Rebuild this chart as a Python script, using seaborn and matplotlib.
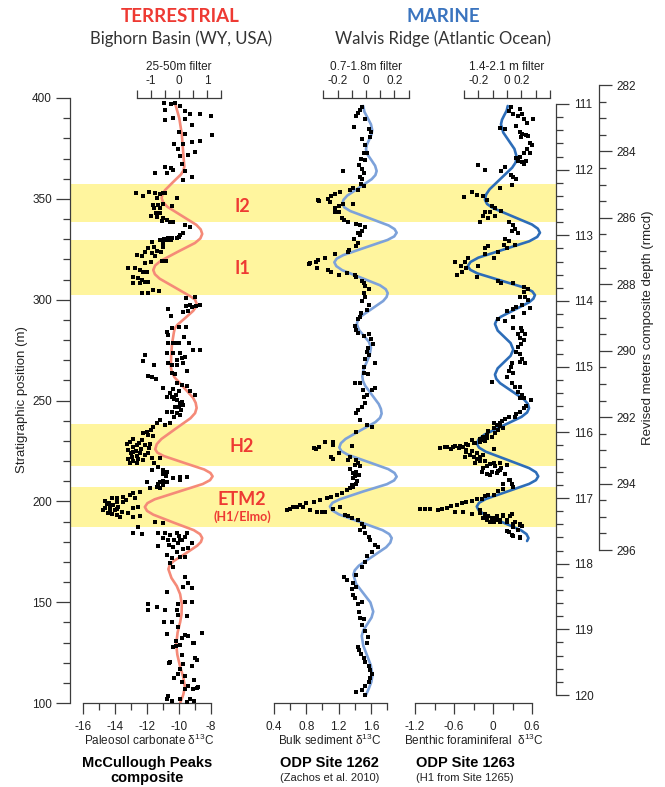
import matplotlib
matplotlib.use("Agg")
import matplotlib.pyplot as plt
import matplotlib.transforms as mtransforms
import pandas as pd
import seaborn as sns
from matplotlib.ticker import FixedLocator, FixedFormatter, MultipleLocator

# ---------------------------------------------------------------- data
band_names = ["I2", "I1", "H2", "ETM2"]
band_top = [357.3, 329.5, 238.3, 207.1]      # stratigraphic position (m)
band_bottom = [338.5, 302.3, 217.5, 187.3]

# McCullough Peaks composite: (stratigraphic position m, paleosol carbonate d13C)
terr_pts = [
    (397.3, -10.94), (396.9, -10.50), (397.3, -10.25), (396.1, -9.94), (394.2, -10.88), (393.4, -9.63),
    (392.3, -9.31), (392.3, -8.69), (389.9, -10.35), (389.6, -9.63), (390.9, -8.00), (389.0, -10.88),
    (386.5, -9.21), (383.2, -10.00), (382.2, -9.63), (381.8, -7.96), (377.4, -10.29), (377.4, -9.73),
    (378.0, -9.17), (378.8, -8.69), (374.5, -10.04), (373.0, -9.00), (371.6, -9.42), (371.1, -9.94),
    (367.2, -9.83), (365.9, -10.88), (365.3, -10.50), (364.5, -10.35), (363.0, -10.77), (363.9, -9.63),
    (362.6, -11.50), (361.0, -9.21), (359.1, -9.73),
    (353.1, -12.69), (351.4, -12.23), (353.5, -11.85), (353.1, -11.50), (352.4, -11.19), (352.7, -10.98),
    (353.1, -10.88), (350.3, -11.35), (346.9, -11.65), (346.9, -11.29), (347.4, -11.02), (346.4, -10.46),
    (350.3, -10.10), (345.3, -11.56), (345.3, -11.19), (343.1, -11.44), (343.1, -11.19), (341.5, -11.75),
    (341.1, -11.35), (340.3, -10.98), (339.5, -10.77), (338.7, -10.56), (338.7, -10.40), (339.2, -11.08),
    (337.0, -9.63), (335.9, -9.31), (332.1, -9.94), (332.9, -9.73), (331.2, -9.98), (330.4, -10.10),
    (330.4, -10.46), (329.6, -10.73),
    (328.8, -11.71), (329.6, -11.19), (329.9, -10.94), (330.4, -10.67), (329.6, -10.52), (325.9, -11.56),
    (325.5, -11.92), (327.9, -11.02), (325.9, -10.98), (323.8, -11.15), (323.8, -12.13), (323.0, -11.71),
    (324.3, -11.40), (321.6, -11.50), (319.3, -10.81), (319.3, -11.08), (318.8, -11.77), (318.3, -12.13),
    (321.6, -12.33), (322.1, -12.60), (315.5, -13.17), (315.5, -12.75), (314.7, -12.44), (313.9, -12.02),
    (313.9, -12.27), (311.4, -12.85), (310.6, -12.54), (309.7, -12.33), (308.9, -12.13), (308.4, -12.44),
    (308.9, -11.92), (308.1, -12.85), (304.8, -11.65), (304.5, -11.23), (303.1, -12.33), (303.5, -11.92),
    (301.2, -9.00), (300.7, -9.56), (297.4, -9.31), (296.9, -9.56), (296.9, -8.94), (297.4, -8.69),
    (296.2, -9.21), (295.2, -10.67), (291.9, -10.52), (294.0, -9.77), (294.5, -9.42), (286.6, -9.56),
    (286.3, -9.98), (285.8, -10.46), (284.1, -10.73), (282.5, -10.67), (281.6, -9.69), (278.7, -9.35),
    (278.3, -10.67), (278.7, -10.35), (278.3, -10.15), (278.3, -9.98), (273.7, -10.77), (273.4, -10.35),
    (273.7, -9.94), (275.0, -9.10), (275.0, -8.69), (270.9, -9.83), (270.1, -10.15), (271.4, -9.63),
    (272.5, -12.13), (269.7, -12.23), (267.6, -11.56), (268.8, -10.67), (267.6, -10.46), (267.6, -10.15),
    (268.4, -9.73),
    (262.1, -11.92), (261.5, -11.71), (260.5, -11.44), (263.8, -10.46), (263.1, -10.25), (264.8, -9.52),
    (258.5, -10.15), (257.7, -9.83), (257.2, -9.52), (256.0, -11.02), (254.9, -9.98), (254.9, -9.31),
    (252.7, -9.00), (253.5, -10.56), (251.9, -10.73), (251.6, -10.46), (250.2, -10.15), (248.6, -9.94),
    (247.8, -9.73), (246.9, -10.25), (244.5, -10.46), (244.5, -10.73), (243.6, -10.15), (242.8, -9.94),
    (240.3, -11.19), (238.7, -11.40), (237.8, -10.88), (239.0, -10.56), (236.7, -11.65), (235.4, -11.77),
    (234.5, -12.02), (233.7, -12.23), (232.9, -11.92), (232.4, -11.60), (230.4, -12.33), (229.6, -13.06),
    (228.4, -13.27), (227.9, -12.65), (227.9, -12.13), (228.4, -11.81), (225.4, -13.17), (224.6, -12.85),
    (223.8, -12.44), (223.0, -12.13), (223.8, -11.92), (221.8, -12.96), (220.8, -12.54), (220.5, -12.23),
    (221.3, -11.71), (218.8, -13.06), (219.2, -12.65), (221.3, -11.19), (218.8, -11.56), (216.9, -11.29),
    (215.5, -10.98), (214.7, -10.73), (215.5, -11.71), (211.4, -10.35), (210.6, -9.94), (209.7, -11.19),
    (209.7, -10.73), (208.1, -11.02), (207.3, -11.40), (206.4, -11.81), (206.4, -11.19), (209.7, -12.02),
    (212.2, -9.94), (211.9, -9.52), (204.8, -12.44), (203.1, -13.06), (202.3, -13.48), (201.5, -13.90),
    (201.5, -14.21), (200.3, -14.63), (199.0, -14.35), (198.2, -14.10), (197.4, -13.79), (195.7, -14.00),
    (194.9, -13.58), (195.7, -14.73), (194.0, -14.42), (193.7, -14.21), (194.0, -13.17), (196.5, -12.85),
    (197.4, -12.54), (192.4, -12.85), (192.7, -12.44), (192.4, -13.69), (199.8, -13.48), (201.5, -12.75),
    (204.0, -12.85), (189.9, -11.50), (189.4, -10.98), (187.4, -12.54), (184.1, -12.85), (183.8, -12.33),
    (184.1, -11.29), (184.5, -10.88), (183.3, -10.56), (184.1, -10.15), (181.6, -10.98), (180.8, -10.67),
    (180.8, -9.94), (182.5, -9.63), (184.1, -9.52), (179.2, -10.04), (177.5, -10.35), (176.2, -9.73),
    (177.8, -11.29), (175.0, -10.15), (172.6, -9.94), (173.4, -10.77), (171.7, -10.46), (169.2, -10.56),
    (167.6, -10.35), (172.6, -9.63), (176.7, -9.42), (179.5, -9.21), (180.8, -9.83),
    (227.0, -12.90), (226.0, -12.40), (225.0, -12.70), (224.0, -13.00), (222.5, -12.60), (221.0, -13.20),
    (229.0, -12.50), (230.9, -12.90), (219.8, -12.90), (226.5, -11.90),
    (198.5, -14.50), (197.0, -14.30), (196.0, -13.90), (195.0, -14.30), (199.5, -13.90), (196.8, -14.60),
    (193.0, -13.90), (200.8, -13.30),
    (250.8, -10.30), (249.5, -9.80), (247.0, -10.00), (245.5, -9.90), (252.5, -10.20), (255.5, -10.40),
    (242.0, -10.30), (213.5, -11.00), (212.8, -10.80), (210.0, -11.00), (208.8, -11.30),
    (178.5, -10.60), (181.0, -10.30), (183.0, -10.00),
    (162.6, -9.63), (159.7, -9.42), (157.7, -9.73), (157.2, -9.21), (154.8, -10.77), (149.1, -11.96),
    (146.2, -11.92), (147.5, -11.40), (146.2, -10.88), (149.1, -10.04), (150.0, -9.63), (150.0, -9.17),
    (146.2, -10.15), (143.7, -10.04), (143.3, -9.52), (140.4, -10.92), (140.4, -10.42), (137.5, -10.04),
    (133.6, -9.63), (133.3, -9.42), (132.1, -9.83), (134.0, -10.77), (134.6, -8.58), (129.8, -9.04),
    (130.8, -10.21), (128.8, -9.94), (127.9, -10.35), (124.0, -9.83), (122.1, -9.00), (120.2, -10.56),
    (119.2, -9.73), (118.2, -9.21), (116.7, -9.94), (114.4, -10.04), (113.4, -9.63), (112.5, -10.29),
    (110.5, -9.83), (111.5, -9.04), (108.6, -9.42), (106.7, -9.63), (106.7, -9.10), (107.6, -8.90),
    (101.8, -10.77), (100.9, -10.42), (101.8, -9.94), (101.8, -9.31), (100.9, -9.04), (100.5, -9.52),
    (103.5, -10.67), (108.1, -8.79), (121.3, -8.90), (119.7, -10.60), (128.3, -10.21), (129.6, -9.10),
]

# 25-50 m filter of the terrestrial record: (stratigraphic position m, filtered value)
terr_filter = [
    (397.4, -0.14), (390.0, 0.01), (382.0, 0.10), (373.0, 0.15), (366.0, 0.19), (364.05, 0.159),
    (362.1, 0.07), (358.2, -0.22), (354.3, -0.50), (352.35, -0.589), (350.4, -0.62), (348.18, -0.565),
    (346.0, -0.41), (341.5, 0.11), (337.1, 0.62), (334.83, 0.775), (332.6, 0.83), (330.36, 0.763),
    (328.1, 0.57), (323.7, -0.05), (319.2, -0.66), (316.94, -0.853), (314.7, -0.92), (312.61, -0.861),
    (310.4, -0.69), (306.1, -0.15), (301.7, 0.40), (300.09, 0.571), (298.0, 0.63), (296.25, 0.599),
    (294.5, 0.51), (291.0, 0.23), (287.5, -0.06), (285.75, -0.149), (284.0, -0.18), (278.0, -0.25),
    (272.0, -0.28), (266.6, -0.29), (264.06, -0.255), (261.5, -0.16), (256.5, 0.17), (251.4, 0.50),
    (248.84, 0.595), (246.3, 0.63), (243.74, 0.574), (241.2, 0.41), (236.1, -0.11), (230.9, -0.63),
    (228.36, -0.794), (225.8, -0.85), (224.13, -0.772), (222.5, -0.55), (219.1, 0.18), (215.8, 0.90),
    (214.08, 1.122), (212.4, 1.20), (210.5, 1.108), (208.6, 0.85), (204.8, -0.01), (201.0, -0.87),
    (199.1, -1.128), (197.2, -1.22), (195.28, -1.142), (193.4, -0.92), (189.5, -0.20), (185.7, 0.53),
    (183.73, 0.752), (181.8, 0.83), (179.88, 0.784), (178.0, 0.65), (174.1, 0.23), (170.3, -0.20),
    (168.33, -0.334), (166.4, -0.38), (162.0, -0.27), (158.0, -0.08), (154.0, 0.04), (149.0, 0.10),
    (144.0, 0.09), (140.0, 0.04), (135.0, -0.05), (129.0, -0.10), (124.0, -0.06), (118.0, 0.04),
    (113.0, 0.15), (108.0, 0.21), (104.0, 0.15), (100.0, 0.04),
]

# ODP Site 1262: (depth, bulk sediment d13C)
odp1262_pts = [
    (111.04, 1.49), (111.09, 1.46), (111.13, 1.44), (111.19, 1.42), (111.23, 1.53), (111.35, 1.39),
    (111.38, 1.57), (111.43, 1.60), (111.53, 1.49), (111.51, 1.59), (111.63, 1.53), (111.74, 1.51),
    (111.75, 1.55), (111.84, 1.48), (111.86, 1.53), (111.93, 1.45), (112.02, 1.26), (111.99, 1.49),
    (112.05, 1.52), (112.11, 1.46), (112.14, 1.49), (112.22, 1.48), (112.25, 1.52), (112.31, 1.44),
    (112.28, 1.38), (112.31, 1.34), (112.34, 1.22), (112.37, 1.16), (112.40, 1.11), (112.45, 1.07),
    (112.46, 0.95), (112.48, 0.96), (112.49, 1.09), (112.58, 1.15), (112.55, 1.20), (112.53, 1.26),
    (112.52, 1.38), (112.64, 1.16), (112.64, 1.20), (112.73, 1.24), (112.76, 1.27), (112.79, 1.32),
    (112.82, 1.41), (112.85, 1.46), (112.87, 1.53), (112.93, 1.49), (112.96, 1.44), (113.00, 1.46),
    (113.05, 1.39), (113.11, 1.44), (113.16, 1.42), (113.23, 1.33), (113.26, 1.31), (113.29, 1.16),
    (113.35, 1.03), (113.38, 0.95), (113.41, 0.92), (113.42, 0.85), (113.44, 0.83), (113.50, 0.93),
    (113.53, 1.07), (113.56, 1.11), (113.60, 1.20), (113.57, 1.30), (113.61, 1.40), (113.64, 1.42),
    (113.69, 1.49), (113.73, 1.52), (113.77, 1.53), (113.82, 1.57), (113.88, 1.51), (113.94, 1.53),
    (114.00, 1.49), (114.06, 1.57), (114.13, 1.55), (114.18, 1.48), (114.24, 1.46), (114.28, 1.44),
    (114.38, 1.40), (114.44, 1.42), (114.48, 1.44), (114.53, 1.51), (114.50, 1.57), (114.58, 1.60),
    (114.65, 1.62), (114.71, 1.56), (114.77, 1.55), (114.82, 1.57), (114.89, 1.53), (114.95, 1.65),
    (115.00, 1.51),
    (115.10, 1.51), (115.11, 1.56), (115.25, 1.40), (115.25, 1.46), (115.35, 1.50), (115.35, 1.61),
    (115.33, 1.65), (115.43, 1.55), (115.46, 1.51), (115.56, 1.53), (115.61, 1.49), (115.66, 1.44),
    (115.71, 1.42), (115.81, 1.46), (115.89, 1.55), (115.92, 1.61), (115.99, 1.42), (116.21, 1.36),
    (116.24, 0.89), (116.26, 0.92), (116.22, 0.96), (116.14, 1.03), (116.14, 1.13), (116.19, 1.13),
    (116.38, 1.11), (116.41, 1.13), (116.32, 1.20), (116.42, 1.32), (116.37, 1.34), (116.42, 1.42),
    (116.47, 1.44), (116.52, 1.46), (116.56, 1.34), (116.62, 1.38), (116.67, 1.40), (116.74, 1.43),
    (116.50, 1.40), (116.60, 1.42), (116.65, 1.45), (116.70, 1.38), (116.78, 1.42), (116.80, 1.36),
    (116.83, 1.38), (116.85, 1.34), (116.88, 1.30), (116.92, 1.24), (116.95, 1.18), (116.98, 1.11),
    (117.00, 1.05), (117.03, 0.97), (117.06, 0.89), (117.08, 0.80), (117.11, 0.72), (117.13, 0.64),
    (117.18, 0.56), (117.16, 0.60), (117.14, 0.68), (117.13, 0.76), (117.18, 0.85), (117.21, 0.93),
    (117.22, 0.99), (117.21, 1.03), (117.17, 1.13), (117.13, 1.22), (117.26, 1.28), (117.28, 1.32),
    (117.31, 1.36), (117.33, 1.44), (117.39, 1.49), (117.44, 1.51), (117.49, 1.46), (117.54, 1.53),
    (117.59, 1.57), (117.64, 1.59), (117.72, 1.65), (117.74, 1.69), (117.82, 1.61), (117.89, 1.55),
    (117.97, 1.53), (118.05, 1.49),
    (118.17, 1.42), (118.20, 1.27), (118.25, 1.30), (118.29, 1.38), (118.35, 1.41), (118.38, 1.36),
    (118.47, 1.38), (118.53, 1.40), (118.61, 1.44), (118.58, 1.49), (118.73, 1.45), (118.82, 1.46),
    (118.85, 1.51), (118.94, 1.49), (119.03, 1.53), (119.12, 1.56), (119.21, 1.55), (119.27, 1.44),
    (119.31, 1.45), (119.38, 1.48), (119.44, 1.51), (119.50, 1.53), (119.56, 1.57), (119.62, 1.59),
    (119.68, 1.61), (119.74, 1.59), (119.80, 1.57), (119.86, 1.53), (119.92, 1.49), (119.95, 1.41),
    (120.00, 1.53),
]

# 0.7-1.8 m filter of Site 1262: (depth, filtered value)
odp1262_filter = [
    (111.03, -0.020), (111.12, -0.011), (111.215, 0.012), (111.31, 0.035), (111.40, 0.044),
    (111.47, 0.038), (111.545, 0.022), (111.62, 0.006), (111.69, 0.000), (111.77, 0.011),
    (111.855, 0.038), (111.94, 0.064), (112.02, 0.075), (112.083, 0.066), (112.145, 0.040),
    (112.27, -0.046), (112.395, -0.132), (112.458, -0.158), (112.52, -0.167), (112.575, -0.152),
    (112.63, -0.111), (112.74, 0.025), (112.85, 0.160), (112.905, 0.201), (112.96, 0.216),
    (113.016, 0.199), (113.07, 0.152), (113.185, -0.004), (113.30, -0.159), (113.354, -0.206),
    (113.41, -0.223), (113.469, -0.209), (113.53, -0.168), (113.645, -0.035), (113.76, 0.098),
    (113.821, 0.139), (113.88, 0.153), (113.939, 0.145), (114.00, 0.121), (114.115, 0.044),
    (114.23, -0.033), (114.291, -0.057), (114.35, -0.065), (114.44, -0.050), (114.53, -0.015),
    (114.62, 0.020), (114.71, 0.035), (114.82, 0.026), (114.93, 0.005), (115.04, -0.017),
    (115.15, -0.026), (115.22, -0.021), (115.29, -0.006), (115.43, 0.042), (115.57, 0.090),
    (115.644, 0.105), (115.715, 0.110), (115.779, 0.099), (115.845, 0.066), (115.97, -0.039),
    (116.10, -0.144), (116.166, -0.177), (116.23, -0.188), (116.286, -0.173), (116.34, -0.129),
    (116.45, 0.014), (116.56, 0.157), (116.619, 0.201), (116.675, 0.216), (116.732, 0.198),
    (116.79, 0.147), (116.90, -0.019), (117.02, -0.185), (117.073, -0.236), (117.13, -0.254),
    (117.19, -0.237), (117.25, -0.190), (117.37, -0.037), (117.49, 0.117), (117.55, 0.164),
    (117.61, 0.181), (117.68, 0.171), (117.75, 0.142), (117.89, 0.046), (118.03, -0.050),
    (118.10, -0.079), (118.17, -0.089), (118.31, -0.069), (118.45, -0.019), (118.59, 0.031),
    (118.73, 0.051), (118.82, 0.039), (118.915, 0.011), (119.01, -0.018), (119.10, -0.030),
    (119.25, -0.019), (119.40, 0.008), (119.55, 0.034), (119.70, 0.045), (119.80, 0.038),
    (119.90, 0.020), (120.00, 0.000),
]

# ODP Site 1263: (depth, benthic foraminiferal d13C)
odp1263_pts = [
    (111.04, 0.28), (111.10, 0.24), (111.07, 0.42), (111.15, 0.30), (111.15, 0.44), (111.19, 0.39),
    (111.23, 0.47), (111.29, 0.52), (111.23, 0.61), (111.37, 0.11), (111.38, 0.18), (111.34, 0.35),
    (111.43, 0.42), (111.45, 0.45), (111.47, 0.50), (111.51, 0.43), (111.48, 0.54), (111.60, 0.57),
    (111.63, 0.60), (111.69, 0.53), (111.74, 0.47), (111.80, 0.42), (111.82, 0.36), (111.87, 0.39),
    (111.88, 0.44), (111.87, 0.50), (111.92, 0.47), (111.75, 0.57), (111.93, -0.23), (112.00, -0.12),
    (112.02, 0.13), (111.96, 0.18), (112.08, 0.28), (112.11, 0.31), (112.14, 0.36), (112.24, 0.29),
    (112.28, 0.11), (112.34, -0.33), (112.39, -0.25), (112.41, -0.44), (112.40, -0.15), (112.46, -0.10),
    (112.55, -0.01), (112.58, 0.03), (112.63, 0.13), (112.64, -0.05), (112.65, -0.12), (112.71, -0.15),
    (112.73, -0.07), (112.79, -0.20), (112.71, 0.03), (112.79, 0.24), (112.85, 0.31), (112.90, 0.34),
    (112.93, 0.29), (112.96, 0.39), (113.06, 0.18), (113.08, 0.24), (113.14, 0.17), (113.14, 0.34),
    (113.20, 0.21), (113.17, -0.08), (113.20, -0.12), (113.29, -0.13), (113.26, 0.08), (113.35, 0.02),
    (113.34, -0.38), (113.41, -0.43), (113.47, -0.49), (113.50, -0.41), (113.56, -0.47), (113.40, -0.59),
    (113.61, -0.56), (113.47, -0.23), (113.64, -0.25), (113.69, 0.08), (113.72, 0.13), (113.73, 0.31),
    (113.79, 0.47), (113.81, 0.54), (113.87, 0.48), (113.94, 0.49), (113.94, 0.42), (113.99, 0.54),
    (114.06, 0.44), (114.09, 0.36), (114.12, 0.30), (114.15, 0.21), (114.18, 0.47), (114.11, 0.57),
    (114.28, 0.08), (114.30, 0.18), (114.25, 0.30), (114.41, 0.31), (114.41, 0.43), (114.46, 0.45),
    (114.50, 0.39), (114.50, 0.49), (114.56, 0.42), (114.60, 0.48), (114.65, 0.43), (114.70, 0.38),
    (114.77, 0.36), (114.80, 0.42), (114.89, 0.44), (114.95, 0.29), (114.93, 0.42), (114.95, 0.49),
    (115.00, 0.28), (115.06, 0.24), (115.09, 0.31), (115.15, 0.21), (115.23, -0.02), (115.25, 0.29),
    (115.31, 0.34), (115.31, 0.42), (115.39, 0.39), (115.43, 0.45), (115.48, 0.48), (115.51, 0.59),
    (115.48, 0.42), (115.60, 0.50), (115.63, 0.47), (115.69, 0.42), (115.72, 0.36), (115.77, 0.34),
    (115.77, 0.24), (115.80, 0.18), (115.83, 0.14), (115.86, 0.11), (115.89, 0.06), (115.94, 0.01),
    (115.98, -0.07), (116.04, -0.10), (116.07, -0.15), (116.13, -0.12), (116.10, -0.20), (116.16, -0.28),
    (116.12, -0.33), (116.19, -0.38), (116.22, -0.46), (116.24, -0.53), (116.21, -0.59), (116.25, -0.64),
    (116.22, -0.74), (116.24, -0.82), (116.30, -0.41), (116.34, -0.35), (116.37, -0.30), (116.40, -0.25),
    (116.43, -0.20), (116.43, -0.12), (116.46, -0.28), (116.38, -0.43), (116.26, 0.01), (116.54, -0.15),
    (116.48, -0.05), (116.51, 0.03), (116.47, 0.11), (116.54, 0.13), (116.59, 0.08), (116.60, -0.02),
    (116.63, -0.10), (116.61, -0.17), (116.63, 0.18), (116.72, 0.24), (116.78, 0.29), (116.87, 0.16),
    (116.90, 0.08), (116.96, 0.01), (116.95, -0.07), (116.97, -0.12), (117.01, -0.17), (117.02, -0.25),
    (117.05, -0.33), (117.06, -0.41), (117.08, -0.48), (117.11, -0.56), (117.12, -0.64), (117.15, -0.71),
    (117.16, -0.79), (117.18, -0.84), (117.16, -0.97), (117.17, -1.05), (117.16, -1.12), (117.21, -0.59),
    (117.22, -0.46), (117.24, -0.33), (117.19, -0.20), (117.25, -0.12), (117.28, -0.07), (117.31, -0.02),
    (117.28, 0.06), (117.27, 0.16), (117.25, 0.29), (117.34, 0.21), (117.37, 0.11), (117.36, 0.01),
    (117.34, -0.10), (117.37, 0.34), (117.40, 0.42), (117.52, 0.24), (117.58, 0.31), (117.61, 0.42),
    (117.43, 0.44),
    (115.86, 0.01), (115.89, 0.06), (115.91, 0.11), (115.94, 0.16), (115.96, 0.08), (116.01, 0.03),
    (116.07, -0.02), (116.09, -0.10), (116.12, -0.15), (116.14, -0.20), (116.17, -0.30), (116.18, -0.41),
    (116.21, -0.51), (116.22, -0.61), (116.23, -0.71), (116.27, -0.41), (116.29, -0.33), (116.32, -0.25),
    (116.34, -0.15), (116.38, -0.20), (116.47, 0.01), (116.57, 0.11), (116.62, 0.06), (116.65, -0.05),
    (116.52, -0.10), (116.50, 0.21), (116.73, 0.26), (116.78, 0.16), (116.83, 0.31),
    (117.23, -0.20), (117.28, -0.10), (117.31, 0.01), (117.33, 0.11), (117.36, 0.21), (117.39, 0.31),
    (117.41, 0.42), (117.28, 0.26), (117.26, 0.16), (117.33, 0.06), (117.31, -0.15), (117.36, -0.05),
    (117.44, 0.31), (117.49, 0.39), (117.51, 0.21), (117.56, 0.29), (117.59, 0.42),
]

# 1.4-2.1 m filter of Site 1263: (depth, filtered value)
odp1263_filter = [
    (111.03, 0.005), (111.10, -0.002), (111.17, -0.019), (111.24, -0.035), (111.31, -0.042),
    (111.435, -0.026), (111.56, 0.013), (111.685, 0.052), (111.81, 0.068), (111.891, 0.060),
    (111.97, 0.036), (112.135, -0.043), (112.30, -0.122), (112.379, -0.146), (112.46, -0.154),
    (112.523, -0.139), (112.585, -0.098), (112.71, 0.038), (112.835, 0.174), (112.898, 0.215),
    (112.96, 0.230), (113.024, 0.211), (113.09, 0.156), (113.215, -0.022), (113.34, -0.200),
    (113.406, -0.255), (113.47, -0.274), (113.525, -0.256), (113.58, -0.206), (113.69, -0.040),
    (113.80, 0.127), (113.855, 0.177), (113.91, 0.195), (113.965, 0.184), (114.02, 0.154),
    (114.13, 0.056), (114.24, -0.043), (114.295, -0.073), (114.35, -0.084), (114.45, -0.065),
    (114.545, -0.020), (114.64, 0.025), (114.74, 0.044), (114.835, 0.025), (114.93, -0.020),
    (115.025, -0.065), (115.12, -0.084), (115.184, -0.075), (115.25, -0.049), (115.375, 0.035),
    (115.50, 0.119), (115.566, 0.145), (115.63, 0.154), (115.698, 0.140), (115.765, 0.101),
    (115.90, -0.029), (116.035, -0.158), (116.103, -0.197), (116.17, -0.211), (116.233, -0.195),
    (116.295, -0.148), (116.42, 0.004), (116.545, 0.155), (116.608, 0.202), (116.67, 0.218),
    (116.728, 0.202), (116.785, 0.155), (116.90, 0.004), (117.015, -0.148), (117.073, -0.195),
    (117.13, -0.211), (117.19, -0.197), (117.25, -0.158), (117.37, -0.031), (117.49, 0.097),
    (117.55, 0.136), (117.61, 0.150), (117.655, 0.140),
]

terr_ticks = [-16, -14, -12, -10, -8]
odp1262_ticks = [0.4, 0.8, 1.2, 1.6]
odp1263_ticks = [-1.2, -0.6, 0.0, 0.6]

# ---------------------------------------------------------------- style
sns.set_theme(style="ticks")
plt.rcParams['font.family'] = ['Liberation Sans', 'DejaVu Sans']
plt.rcParams['mathtext.fontset'] = 'custom'
plt.rcParams['mathtext.rm'] = 'Liberation Sans'
plt.rcParams['mathtext.it'] = 'Liberation Sans:italic'
plt.rcParams['mathtext.default'] = 'regular'
plt.rcParams['axes.unicode_minus'] = False

W, H = 665, 787
fig = plt.figure(figsize=(W / 100, H / 100), dpi=100)
fig.patch.set_facecolor('white')

AX = '#3c3c3c'
TXT = '#222222'
BAND = '#FFF59E'
RED = '#EE3A33'
BLUE = '#3A74BF'
TOP, BOT = 98, 703
DEP_TOP = 111 - 6 / 65.67
DEP_BOT = 120 + 8 / 65.67
TS = 8.5


def rect(x0, y0, x1, y1):
    return [x0 / W, 1 - y1 / H, (x1 - x0) / W, (y1 - y0) / H]


def fxy(x, y):
    return x / W, 1 - y / H


def clean(ax, keep=()):
    for s in ['left', 'right', 'top', 'bottom']:
        ax.spines[s].set_visible(s in keep)
        ax.spines[s].set_color(AX)
        ax.spines[s].set_linewidth(0.9)
    ax.set_facecolor('none')
    ax.grid(False)
    ax.set_xlabel('')
    ax.set_ylabel('')


# ---------------------------------------------------------------- background / strat axis
ax_bg = fig.add_axes(rect(70, TOP, 555.7, BOT))
clean(ax_bg, keep=('left',))
ax_bg.set_xlim(0, 1)
ax_bg.set_ylim(100, 400)
for lo, hi in zip(band_bottom, band_top):
    ax_bg.axhspan(lo, hi, color=BAND, lw=0, zorder=0)
ax_bg.set_xticks([])
ax_bg.yaxis.set_major_locator(MultipleLocator(50))
ax_bg.yaxis.set_minor_locator(MultipleLocator(10))
ax_bg.tick_params(axis='y', which='major', direction='out', length=10, width=0.9, color=AX,
                  labelsize=TS, labelcolor=TXT, pad=3, left=True)
ax_bg.tick_params(axis='y', which='minor', direction='out', length=5, width=0.9, color=AX, left=True)

trans = mtransforms.blended_transform_factory(ax_bg.transAxes, ax_bg.transData)
lab_x = (242 - 70) / (555.7 - 70)
band_label_m = [346.3, 315.7, 227.4, 200.7]
for name, mpos in zip(band_names, band_label_m):
    ax_bg.text(lab_x, mpos, name, transform=trans, ha='center', va='center', color=RED,
               fontsize=13, fontweight='bold', family=['Lato', 'DejaVu Sans'])
ax_bg.text(lab_x, 192.2, '(H1/Elmo)', transform=trans, ha='center', va='center', color=RED,
           fontsize=9, fontweight='bold', family=['Lato', 'DejaVu Sans'])


def panel(x0, x1, xlim, ylim, pts, filt, fcol, ticks, tick_labels, minor, fxlim, ftick, flabels):
    ax = fig.add_axes(rect(x0, TOP, x1, BOT))
    axt = ax.twiny()
    fdf = pd.DataFrame(filt, columns=['depth', 'value']).sort_values('depth')
    sns.lineplot(data=fdf, x='value', y='depth', sort=False, estimator=None, ax=axt,
                 color=fcol, linewidth=1.9)
    pdf = pd.DataFrame(pts, columns=['depth', 'value'])
    sns.scatterplot(data=pdf, x='value', y='depth', ax=ax, marker='s', s=5, color='black',
                    linewidth=0, legend=False, zorder=5)
    clean(ax, keep=('bottom',))
    clean(axt, keep=('top',))
    for ln in axt.lines:
        ln.set_solid_joinstyle('round')
        ln.set_solid_capstyle('round')
    ax.set_zorder(axt.get_zorder() + 1)
    ax.set_xlim(*xlim)
    axt.set_xlim(*fxlim)
    ax.set_ylim(*ylim)
    ax.spines['bottom'].set_bounds(ticks[0], max(ticks[-1], minor[-1]))
    ax.xaxis.set_major_locator(FixedLocator(ticks))
    ax.xaxis.set_major_formatter(FixedFormatter(tick_labels))
    ax.xaxis.set_minor_locator(FixedLocator(minor))
    ax.tick_params(axis='x', which='major', direction='out', length=8, width=0.9, color=AX,
                   labelsize=TS, labelcolor=TXT, pad=5, bottom=True, top=False)
    ax.tick_params(axis='x', which='minor', direction='out', length=5, width=0.9, color=AX,
                   bottom=True, top=False)
    ax.tick_params(axis='y', left=False, right=False, labelleft=False, labelright=False)
    axt.spines['top'].set_bounds(ftick[0], ftick[-1])
    axt.xaxis.set_major_locator(FixedLocator(ftick))
    axt.xaxis.set_major_formatter(FixedFormatter(flabels))
    axt.tick_params(axis='x', which='major', direction='out', length=6, width=0.9, color=AX,
                    labelsize=TS, labelcolor=TXT, pad=2, top=True, bottom=False,
                    labeltop=True, labelbottom=False)
    axt.tick_params(axis='x', which='minor', top=False, bottom=False)
    return ax, axt


# Terrestrial
panel(83, 222, (-16, -16 + 139 / 16), (100, 400), terr_pts, terr_filter, '#F58A78',
      terr_ticks, [str(t) for t in terr_ticks], [-15, -13, -11, -9],
      ((83 - 179) / 28, (222 - 179) / 28),
      [-1.5, -1, -0.5, 0, 0.5, 1, 1.5], ['', '-1', '', '0', '', '1', ''])

# ODP 1262
panel(274, 409, (0.4, 0.4 + 135 / 80.8), (DEP_BOT, DEP_TOP), odp1262_pts, odp1262_filter, '#7DA2DA',
      odp1262_ticks, ['0.4', '0.8', '1.2', '1.6'], [0.6, 1.0, 1.4, 1.8],
      ((274 - 366) / 142, (409 - 366) / 142),
      [-0.3, -0.2, -0.1, 0, 0.1, 0.2, 0.3], ['', '-0.2', '', '0', '', '0.2', ''])

# ODP 1263
panel(415, 550, (-1.2, -1.2 + 135 / 65), (DEP_BOT, DEP_TOP), odp1263_pts, odp1263_filter, '#2D6DB8',
      odp1263_ticks, ['-1.2', '-0.6', '0', '0.6'], [-0.9, -0.3, 0.3],
      ((415 - 507) / 143.3, (550 - 507) / 143.3),
      [-0.3, -0.2, -0.1, 0, 0.1, 0.2, 0.3], ['', '-0.2', '', '0', '0.2', '', ''])

# ---------------------------------------------------------------- right depth axes
axr1 = fig.add_axes(rect(530, TOP, 555.7, BOT))
clean(axr1, keep=('right',))
axr1.set_ylim(DEP_BOT, DEP_TOP)
axr1.spines['right'].set_bounds(111, 120)
axr1.set_xticks([])
axr1.yaxis.tick_right()
axr1.yaxis.set_major_locator(MultipleLocator(1))
axr1.yaxis.set_minor_locator(MultipleLocator(0.2))
axr1.tick_params(axis='y', which='major', direction='out', length=9, width=0.9, color=AX,
                 labelsize=TS, labelcolor=TXT, pad=4, right=True, left=False,
                 labelright=True, labelleft=False)
axr1.tick_params(axis='y', which='minor', direction='out', length=5, width=0.9, color=AX,
                 right=True, left=False)

axr2 = fig.add_axes(rect(570, 85, 599.3, 550))
clean(axr2, keep=('right',))
axr2.set_ylim(296, 282)
axr2.set_xticks([])
axr2.yaxis.tick_right()
axr2.yaxis.set_major_locator(MultipleLocator(2))
axr2.yaxis.set_minor_locator(MultipleLocator(0.5))
axr2.tick_params(axis='y', which='major', direction='out', length=9, width=0.9, color=AX,
                 labelsize=TS, labelcolor=TXT, pad=3, right=True, left=False,
                 labelright=True, labelleft=False)
axr2.tick_params(axis='y', which='minor', direction='out', length=5, width=0.9, color=AX,
                 right=True, left=False)

# ---------------------------------------------------------------- texts
ttl = dict(ha='center', va='center', family=['Lato', 'DejaVu Sans'])
fig.text(*fxy(180, 17), 'TERRESTRIAL', color=RED, fontsize=13.5, fontweight='bold', **ttl)
fig.text(*fxy(181, 39), 'Bighorn Basin (WY, USA)', color='#333333', fontsize=12, **ttl)
fig.text(*fxy(443, 17), 'MARINE', color=BLUE, fontsize=13.5, fontweight='bold', **ttl)
fig.text(*fxy(443, 39), 'Walvis Ridge (Atlantic Ocean)', color='#333333', fontsize=12, **ttl)

sm = dict(ha='center', va='center', color=TXT, fontsize=TS)
fig.text(*fxy(178.5, 67), '25-50m filter', **sm)
fig.text(*fxy(365.5, 67), '0.7-1.8m filter', **sm)
fig.text(*fxy(507, 67), '1.4-2.1 m filter', **sm)

fig.text(*fxy(149, 740), r'Paleosol carbonate $\delta^{13}$C', **sm)
fig.text(*fxy(330, 740), r'Bulk sediment $\delta^{13}$C', **sm)
fig.text(*fxy(474, 740), r'Benthic foraminiferal  $\delta^{13}$C', **sm)

bd = dict(ha='center', va='center', color='black', fontsize=10.5, fontweight='bold')
fig.text(*fxy(147, 763), 'McCullough Peaks', **bd)
fig.text(*fxy(147, 778), 'composite', **bd)
fig.text(*fxy(329.5, 763), 'ODP Site 1262', **bd)
fig.text(*fxy(465, 763), 'ODP Site 1263', **bd)
fig.text(*fxy(330, 778), '(Zachos et al. 2010)', ha='center', va='center', color=TXT, fontsize=8)
fig.text(*fxy(465, 778), '(H1 from Site 1265)', ha='center', va='center', color=TXT, fontsize=8)

fig.text(*fxy(22, 400), 'Stratigraphic position (m)', rotation=90, ha='center', va='center',
         color=TXT, fontsize=9.5)
fig.text(*fxy(648, 328), 'Revised meters composite depth (rmcd)', rotation=90, ha='center',
         va='center', color=TXT, fontsize=9.5)

fig.savefig('out.png', dpi=100, facecolor='white')
